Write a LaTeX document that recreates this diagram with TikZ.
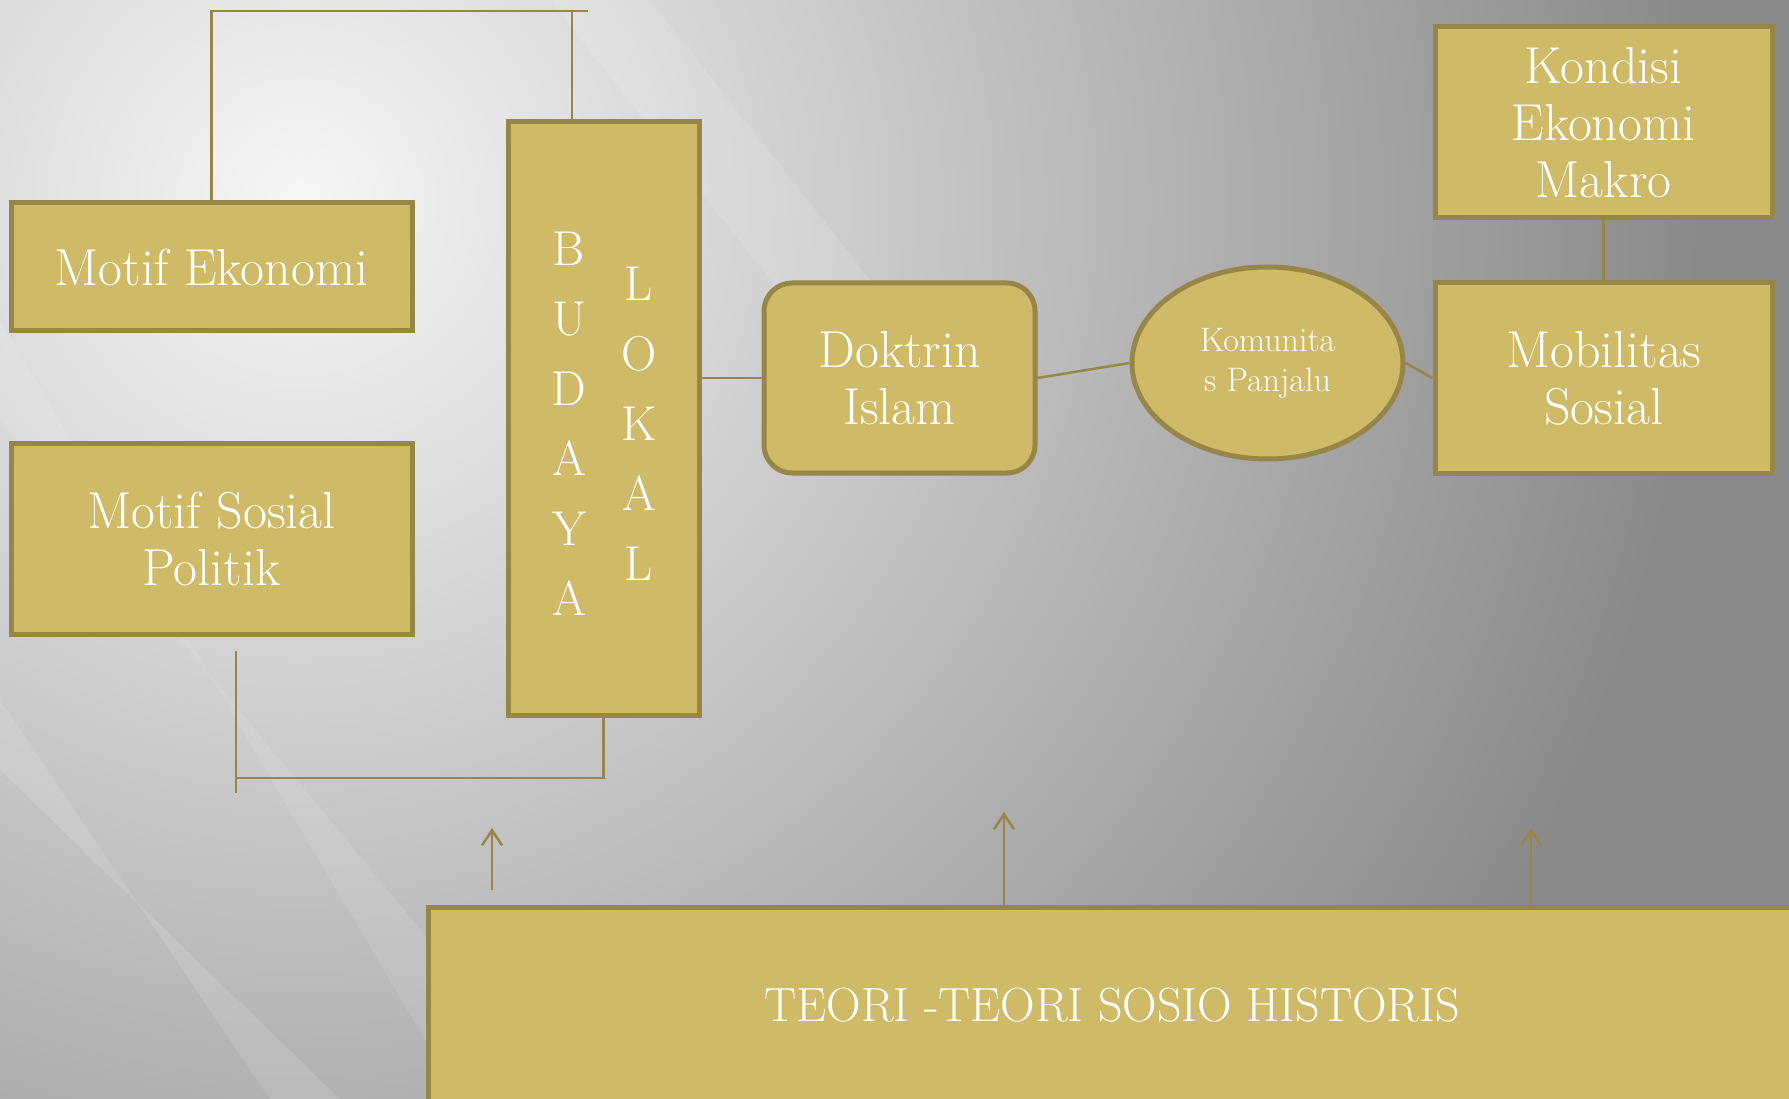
\documentclass[tikz,border=0pt]{standalone}
\usepackage{tikz}
\usetikzlibrary{positioning}
\usetikzlibrary{shapes.geometric}
\usetikzlibrary{arrows.meta}
\definecolor{gold}{RGB}{207,186,103}
\definecolor{goldline}{RGB}{152,133,72}
\definecolor{bgdark}{RGB}{138,138,138}
\definecolor{bglight}{RGB}{246,246,246}

\begin{document}
\begin{tikzpicture}[x=1pt,y=-1pt,
   box/.style={draw=goldline,line width=5pt,fill=gold,text=white,align=center,
     inner sep=0pt,font=\fontsize{52}{57}\selectfont},
   letters/.style={text=white,align=center,inner sep=0pt,font=\fontsize{49}{70}\selectfont},
   link/.style={draw=goldline,line width=2.5pt},
   up/.style={link,-{Straight Barb[length=15pt,width=20pt,line width=2.5pt]}}]
   \useasboundingbox (0,0) rectangle (1789,1099);
   \clip (0,0) rectangle (1789,1099);
   % background
   \fill[bgdark] (0,0) rectangle (1789,1099);
   \shade[inner color=bglight,outer color=bgdark] (300,200) circle (1400);
   \fill[white,opacity=0.12] (550,0) -- (650,0) -- (1020,470) -- (920,470) -- cycle;
   \fill[white,opacity=0.10] (0,320) -- (0,420) -- (560,1099) -- (460,1099) -- cycle;
   \fill[white,opacity=0.12] (0,700) -- (0,770) -- (340,1099) -- (270,1099) -- cycle;

   \node[box,minimum width=401,minimum height=128] (me) at (211.5,267) {Motif Ekonomi};
   \node[box,minimum width=401,minimum height=191] (msp) at (211.5,538.5) {Motif Sosial\\Politik};
   \node[box,minimum width=191,minimum height=593] (bl) at (603.5,418.5) {};
   \node[letters] (bl_a) at (569,424) {B\\U\\D\\A\\Y\\A};
   \node[letters] (bl_b) at (639,424) {L\\O\\K\\A\\L};
   \node[box,rounded corners=28pt,minimum width=271,minimum height=190] (di) at (899.5,378) {Doktrin\\Islam};
   \node[box,ellipse,minimum width=271,minimum height=192,
     font=\fontsize{34}{40}\selectfont] (kp) at (1267.5,363) {Komunita\\s Panjalu};
   \node[box,minimum width=337,minimum height=191] (kem) at (1603.5,122.5) {Kondisi\\Ekonomi\\Makro};
   \node[box,minimum width=337,minimum height=190] (ms) at (1603.5,378) {Mobilitas\\Sosial};
   \node[box,minimum width=1368,minimum height=196,
     font=\fontsize{48}{57}\selectfont] (teori) at (1112,1005) {TEORI -TEORI SOSIO HISTORIS};

   \coordinate (top_r) at (588,11);
   \coordinate (top_m) at (572,11);
   \coordinate (low_a) at (236,651);
   \coordinate (low_b) at (236,793);
   \coordinate (low_m) at (236,778);
   \coordinate (arr_a0) at (492,890);
   \coordinate (arr_a1) at (492,828);
   \coordinate (arr_b1) at (1004,812);
   \coordinate (arr_c1) at (1531,828);

   \draw[link] (me.north) |- (top_r);
   \draw[link] (top_m) -- (top_m |- bl.north);
   \draw[link] (low_a) -- (low_b);
   \draw[link] (bl.south) |- (low_m);
   \draw[link] (bl.east |- di.west) -- (di.west);
   \draw[link] (di.east) -- (kp.west);
   \draw[link] (kp.east) -- (ms.west);
   \draw[link] (kem) -- (ms);
   \draw[up] (arr_a0) -- (arr_a1);
   \draw[up] (teori.north -| arr_b1) -- (arr_b1);
   \draw[up] (teori.north -| arr_c1) -- (arr_c1);
\end{tikzpicture}
\end{document}
